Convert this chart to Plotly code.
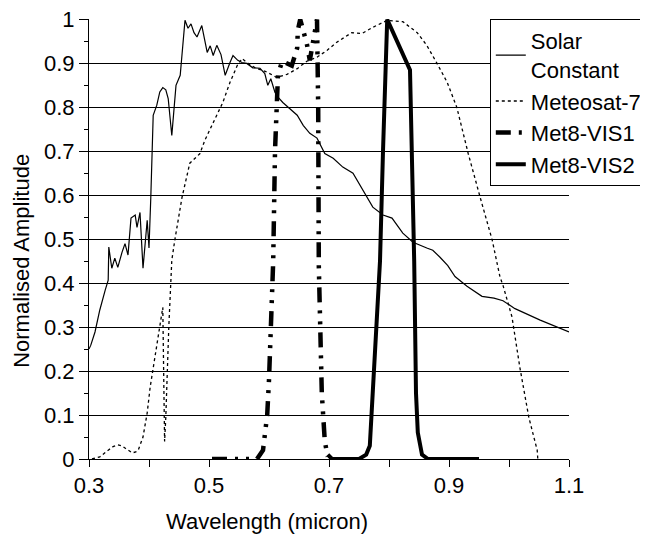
import plotly.graph_objects as go

# Solar constant (thin solid)
solar_x = [0.300, 0.303, 0.310, 0.318, 0.327, 0.332, 0.333, 0.338, 0.343, 0.348,
           0.355, 0.360, 0.365, 0.370, 0.377, 0.380, 0.385, 0.390, 0.397, 0.400,
           0.403, 0.407, 0.413, 0.418, 0.423, 0.428, 0.432, 0.438, 0.445, 0.452,
           0.460, 0.465, 0.470, 0.475, 0.480, 0.488, 0.497, 0.502, 0.507, 0.513,
           0.520, 0.527, 0.535, 0.540, 0.548, 0.555, 0.563, 0.573, 0.585, 0.593,
           0.598, 0.603, 0.610, 0.615, 0.623, 0.635, 0.647, 0.657, 0.668, 0.680,
           0.693, 0.707, 0.723, 0.740, 0.757, 0.773, 0.790, 0.805, 0.823, 0.840,
           0.863, 0.873, 0.885, 0.898, 0.910, 0.930, 0.955, 0.975, 0.990, 1.000,
           1.010, 1.052, 1.100]
solar_y = [0.250, 0.259, 0.289, 0.339, 0.384, 0.407, 0.482, 0.434, 0.457, 0.436,
           0.470, 0.490, 0.464, 0.548, 0.555, 0.527, 0.561, 0.434, 0.543, 0.480,
           0.595, 0.782, 0.805, 0.835, 0.845, 0.840, 0.820, 0.736, 0.850, 0.873,
           0.998, 0.980, 0.990, 0.970, 0.960, 0.986, 0.925, 0.940, 0.918, 0.941,
           0.920, 0.873, 0.902, 0.918, 0.907, 0.902, 0.900, 0.890, 0.889, 0.877,
           0.850, 0.865, 0.834, 0.823, 0.811, 0.797, 0.782, 0.759, 0.741, 0.730,
           0.695, 0.684, 0.664, 0.650, 0.611, 0.573, 0.555, 0.548, 0.514, 0.493,
           0.480, 0.475, 0.459, 0.440, 0.415, 0.393, 0.370, 0.366, 0.360, 0.350,
           0.342, 0.316, 0.289]

# Meteosat-7 (thin dotted)
met7_x = [0.305, 0.318, 0.332, 0.340, 0.348, 0.355, 0.360, 0.372, 0.378, 0.382,
          0.390, 0.397, 0.402, 0.407, 0.413, 0.418, 0.423, 0.426, 0.428, 0.433,
          0.438, 0.443, 0.455, 0.468, 0.485, 0.493, 0.507, 0.523, 0.535, 0.547,
          0.555, 0.565, 0.577, 0.597, 0.613, 0.630, 0.647, 0.663, 0.680, 0.697,
          0.713, 0.738, 0.755, 0.773, 0.797, 0.823, 0.847, 0.863, 0.880, 0.897,
          0.913, 0.932, 0.952, 0.972, 0.985, 0.990, 1.005, 1.018, 1.033, 1.047,
          1.048]
met7_y = [0.000, 0.005, 0.020, 0.028, 0.032, 0.030, 0.025, 0.014, 0.016, 0.020,
          0.050, 0.105, 0.164, 0.209, 0.255, 0.300, 0.345, 0.040, 0.095, 0.300,
          0.452, 0.498, 0.595, 0.673, 0.695, 0.725, 0.764, 0.811, 0.857, 0.895,
          0.911, 0.900, 0.890, 0.880, 0.868, 0.875, 0.888, 0.905, 0.914, 0.930,
          0.948, 0.970, 0.968, 0.982, 0.998, 0.995, 0.970, 0.941, 0.900, 0.857,
          0.800, 0.695, 0.595, 0.498, 0.414, 0.395, 0.323, 0.209, 0.095, 0.020,
          0.000]

# Met8-VIS1 (thick dash-dot)
vis1_x = [0.505, 0.580, 0.590, 0.597, 0.600, 0.603, 0.607, 0.610, 0.613, 0.615,
          0.622, 0.638, 0.647, 0.648, 0.652, 0.660, 0.663, 0.668, 0.673, 0.677,
          0.680, 0.682, 0.683, 0.688, 0.693, 0.698]
vis1_y = [0.000, 0.000, 0.020, 0.100, 0.180, 0.300, 0.450, 0.700, 0.830, 0.875,
          0.905, 0.895, 0.935, 0.975, 1.000, 0.965, 0.945, 0.907, 0.945, 0.975,
          1.000, 0.800, 0.440, 0.150, 0.040, 0.005]

# Met8-VIS2 (thick solid)
vis2_x = [0.698, 0.705, 0.750, 0.762, 0.768, 0.773, 0.785, 0.790, 0.797, 0.835,
          0.840, 0.842, 0.845, 0.848, 0.855, 0.865, 0.950]
vis2_y = [0.010, 0.000, 0.000, 0.010, 0.030, 0.150, 0.450, 0.700, 1.000, 0.885,
          0.600, 0.450, 0.150, 0.060, 0.010, 0.000, 0.000]

x_ticks = [0.3, 0.5, 0.7, 0.9, 1.1]
y_ticks = [0, 0.1, 0.2, 0.3, 0.4, 0.5, 0.6, 0.7, 0.8, 0.9, 1]

font = dict(family="Arial, Liberation Sans, sans-serif", size=22, color="black")

fig = go.Figure()

fig.add_trace(go.Scatter(x=solar_x, y=solar_y, mode="lines", name="Solar<br>Constant",
                         line=dict(color="black", width=1.2)))
fig.add_trace(go.Scatter(x=met7_x, y=met7_y, mode="lines", name="Meteosat-7",
                         line=dict(color="black", width=1.3, dash="dot")))
fig.add_trace(go.Scatter(x=vis1_x, y=vis1_y, mode="lines", name="Met8-VIS1",
                         line=dict(color="black", width=4.5,
                                   dash="15px,8px,3px,8px,3px,8px")))
fig.add_trace(go.Scatter(x=vis2_x, y=vis2_y, mode="lines", name="Met8-VIS2",
                         line=dict(color="black", width=4)))

# the page has an 8px body margin, so the figure is drawn 8px smaller and shifted
fig.update_layout(
    width=640, height=530,
    margin=dict(l=81, r=79, t=11, b=79, autoexpand=False),
    paper_bgcolor="white", plot_bgcolor="white",
    font=font,
    showlegend=True,
    legend=dict(x=0.835, y=1.0, xanchor="left", yanchor="top",
                bgcolor="white", bordercolor="black", borderwidth=1,
                font=font, tracegroupgap=0),
    annotations=[
        dict(text="Wavelength (micron)", x=0.37, y=-0.143, xref="paper", yref="paper",
             xanchor="center", yanchor="middle", showarrow=False, font=font),
        dict(text="Normalised Amplitude", x=-0.142, y=0.45, xref="paper", yref="paper",
             xanchor="center", yanchor="middle", textangle=-90, showarrow=False, font=font),
    ],
)

fig.update_xaxes(range=[0.3, 1.1], tickvals=x_ticks, ticktext=[str(v) for v in x_ticks],
                 ticks="outside", ticklen=7, tickcolor="black",
                 minor=dict(dtick=0.1, tick0=0.3, ticks="outside", ticklen=7, tickcolor="black"),
                 showline=True, linecolor="black", linewidth=1,
                 showgrid=False, zeroline=False)
fig.update_yaxes(range=[0, 1.001], tickvals=y_ticks, ticktext=[str(v) for v in y_ticks],
                 ticks="outside", ticklen=9, tickcolor="black", ticklabeloverflow="allow",
                 minor=dict(dtick=0.05, ticks="outside", ticklen=4, tickcolor="black"),
                 showline=True, linecolor="black", linewidth=1,
                 showgrid=True, gridcolor="black", gridwidth=1, zeroline=False)

fig.write_html("out.html")
